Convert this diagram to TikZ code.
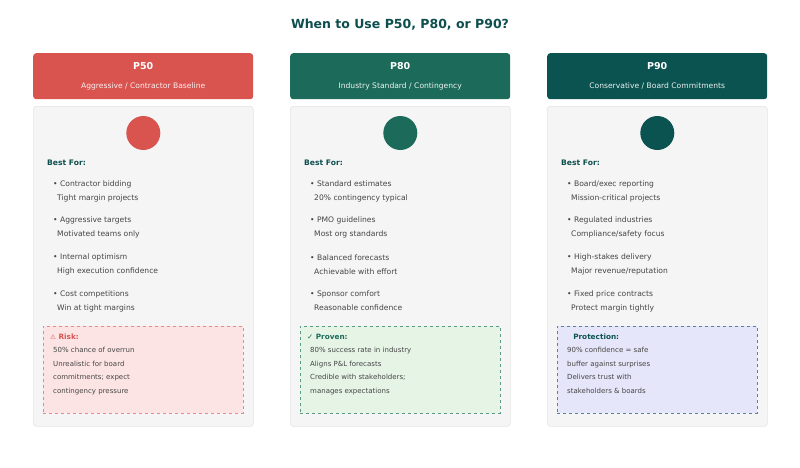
\documentclass[tikz,border=0pt]{standalone}
\usepackage{fontspec}
\setmainfont{DejaVu Sans}
\definecolor{cred}{HTML}{D9534F}
\definecolor{cgreen}{HTML}{1C6B5A}
\definecolor{cteal}{HTML}{0B5351}
\definecolor{ctitle}{HTML}{0E4E4E}
\definecolor{ctext}{HTML}{444444}
\definecolor{rfill}{HTML}{FDE4E4}\definecolor{rline}{HTML}{E58A8A}
\definecolor{gfill}{HTML}{E6F4E6}\definecolor{gline}{HTML}{5C9C84}
\definecolor{bfill}{HTML}{E6E6FA}\definecolor{bline}{HTML}{5A7FA0}
\newcommand{\slsh}{/}
\tikzset{
 hdr/.style={rounded corners=3pt,minimum width=220pt,minimum height=46pt,inner sep=0pt},
 bodybox/.style={rounded corners=3pt,fill=black!4,draw=black!10,line width=0.6pt,minimum width=220pt,minimum height=320pt,inner sep=0pt},
 call/.style={dashed,line width=0.6pt,minimum width=200pt,minimum height=87pt,inner sep=0pt},
 txt/.style={anchor=west,inner sep=0pt,text=ctext,font=\fontsize{7.6}{9}\selectfont},
 ctxt/.style={anchor=north west,inner sep=0pt,text=ctext,align=left,font=\fontsize{7}{13.5}\selectfont},
}
\newcommand{\column}[9]{%
 \node[hdr,fill=#2,anchor=north west] (h#3) at (#1,53) {};
 \node[text=white,font=\bfseries\fontsize{9.5}{11}\selectfont] (ht#3) at ([yshift=-13pt]h#3.north) {#3};
 \node[text=white!92!#2,font=\fontsize{7.6}{9}\selectfont] (hs#3) at ([yshift=-33pt]h#3.north) {#4};
 \node[bodybox,anchor=north west] (b#3) at (#1,106) {};
 \node[circle,fill=#2,minimum size=34pt,inner sep=0pt] (ic#3) at ([yshift=-27pt]b#3.north) {};
 \node[txt,text=ctitle,font=\bfseries\fontsize{7.6}{9}\selectfont] (bf#3) at ([xshift=14pt,yshift=-57pt]b#3.north west) {Best For:};
 \foreach \a/\b [count=\i] in {#5} {
  \node[txt] (i#3\i) at ([xshift=20pt,yshift={-78pt-(\i-1)*36.7pt}]b#3.north west) {• \a};
  \node[txt] (j#3\i) at ([xshift=24pt,yshift={-92pt-(\i-1)*36.7pt}]b#3.north west) {\b};
 }
 \node[call,fill=#6,draw=#7,anchor=north west] (c#3) at ([xshift=10pt,yshift=-220pt]b#3.north west) {};
 \node[ctxt,anchor=west,font=\bfseries\fontsize{7.3}{9}\selectfont,text=#2] (ct#3) at ([xshift=7pt,yshift=-11pt]c#3.north west) {#8};
 \node[ctxt] (cx#3) at ([xshift=10pt,yshift=-21pt]c#3.north west) {#9};
}
\begin{document}
\begin{tikzpicture}[x=1pt,y=-1pt]
\useasboundingbox[fill=white] (0,0) rectangle (800,467);
\node[text=ctitle,font=\bfseries\fontsize{12.5}{14}\selectfont] (title) at (400,25) {When to Use P50, P80, or P90?};
\column{33}{cred}{P50}{Aggressive / Contractor Baseline}{Contractor bidding/Tight margin projects,Aggressive targets/Motivated teams only,Internal optimism/High execution confidence,Cost competitions/Win at tight margins}{rfill}{rline}{{\fontsize{6.5}{8}\selectfont ⚠} Risk:}{50\% chance of overrun\\Unrealistic for board\\commitments; expect\\contingency pressure}
\column{290}{cgreen}{P80}{Industry Standard / Contingency}{Standard estimates/20\% contingency typical,PMO guidelines/Most org standards,Balanced forecasts/Achievable with effort,Sponsor comfort/Reasonable confidence}{gfill}{gline}{✓ Proven:}{80\% success rate in industry\\Aligns P\&L forecasts\\Credible with stakeholders;\\manages expectations}
\column{547}{cteal}{P90}{Conservative / Board Commitments}{Board\slsh exec reporting/Mission-critical projects,Regulated industries/Compliance\slsh safety focus,High-stakes delivery/Major revenue\slsh reputation,Fixed price contracts/Protect margin tightly}{bfill}{bline}{\phantom{⚠} Protection:}{90\% confidence = safe\\buffer against surprises\\Delivers trust with\\stakeholders \& boards}
\end{tikzpicture}
\end{document}
